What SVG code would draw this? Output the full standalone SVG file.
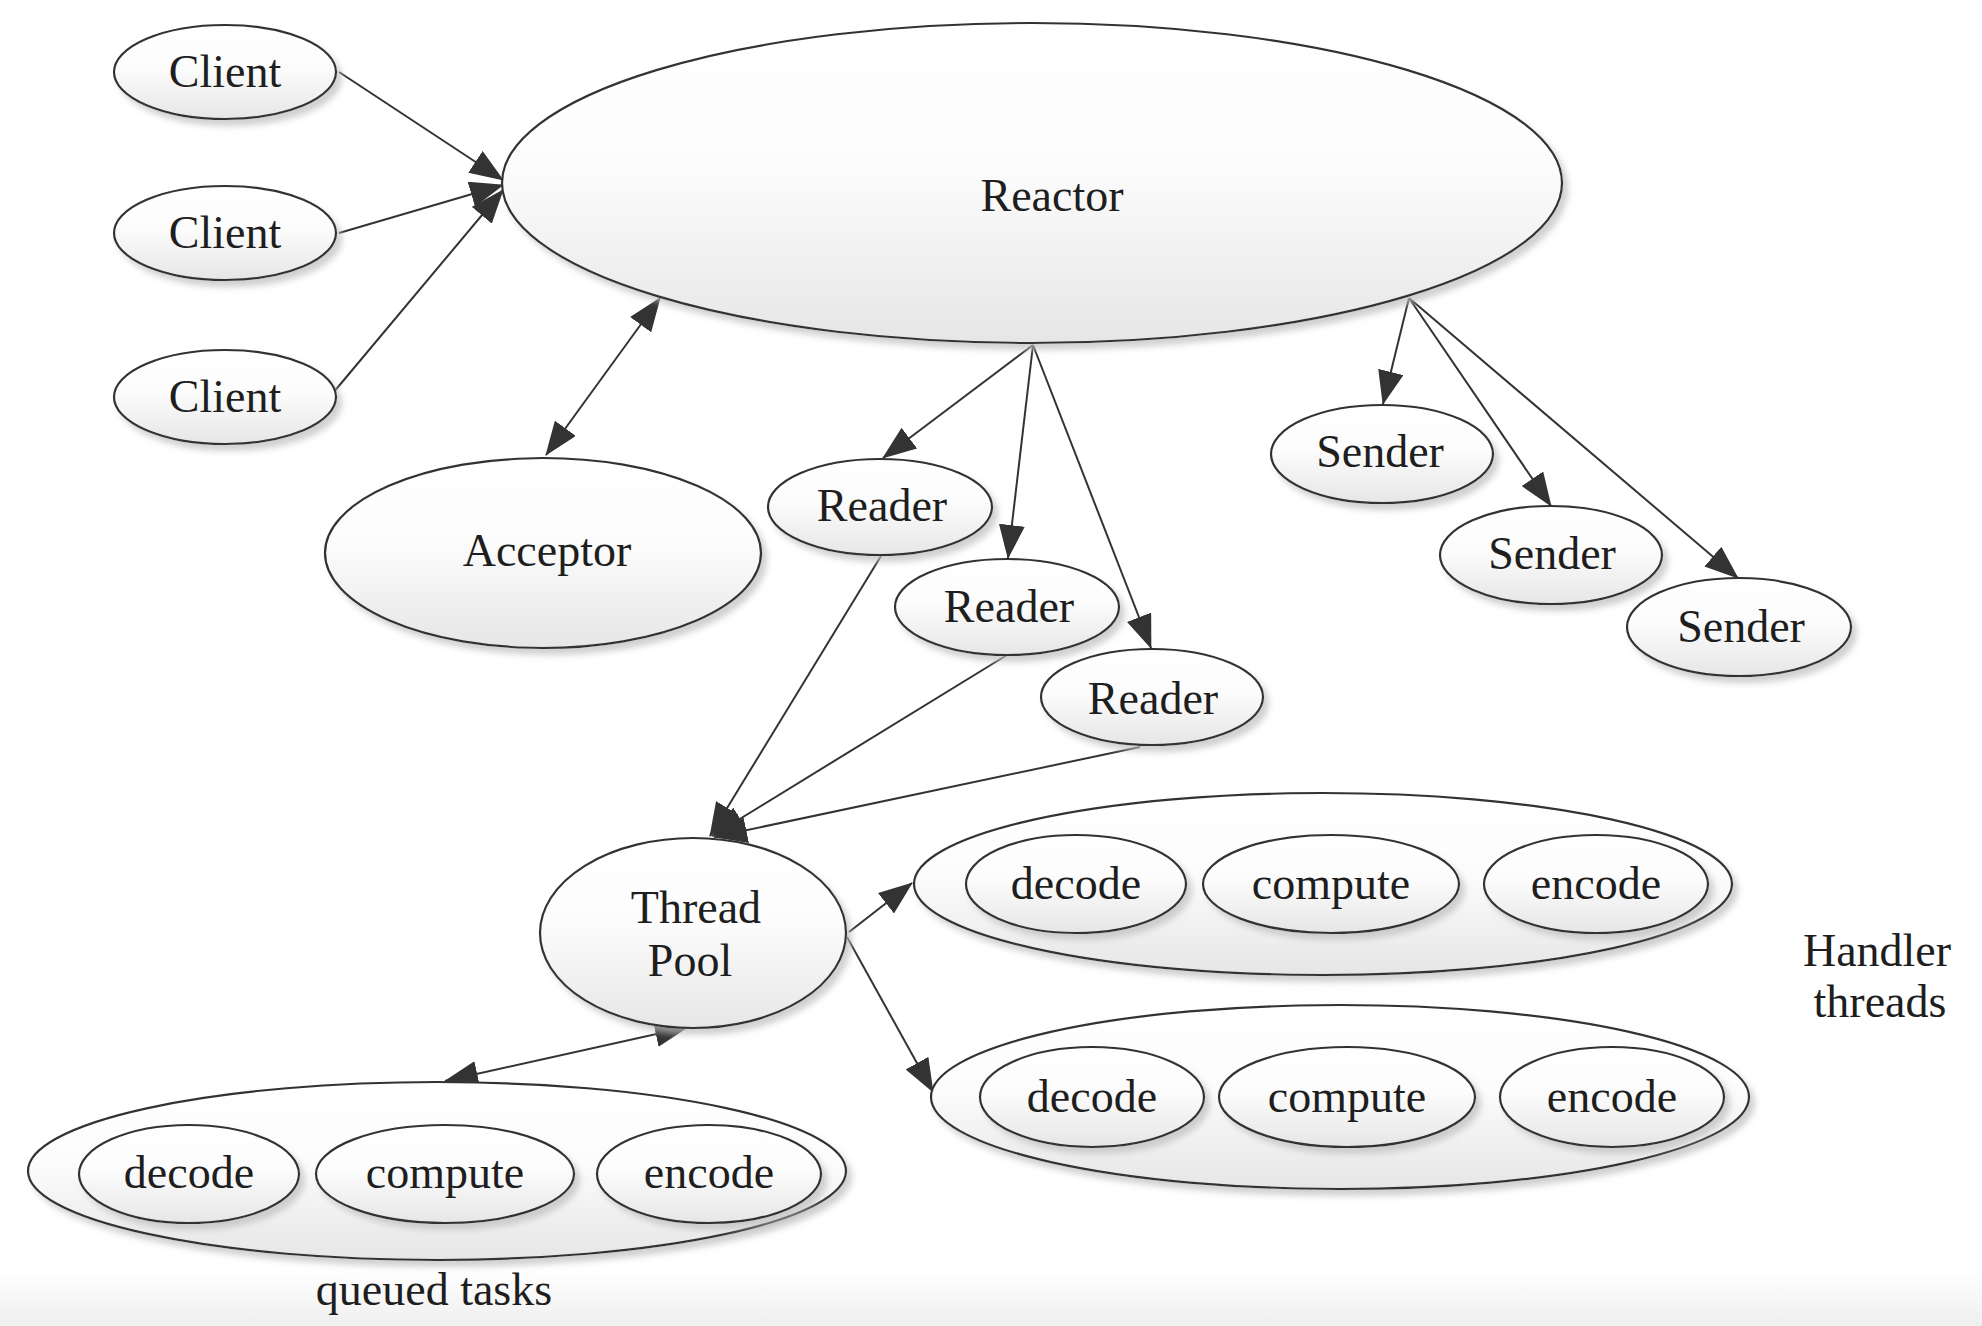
<svg xmlns="http://www.w3.org/2000/svg" width="1982" height="1326" viewBox="0 0 1982 1326">
<defs>
<linearGradient id="nf" x1="0" y1="0" x2="0" y2="1">
<stop offset="0" stop-color="#ffffff"/>
<stop offset="0.45" stop-color="#fcfcfc"/>
<stop offset="1" stop-color="#e6e6e6"/>
</linearGradient>
<linearGradient id="bot" x1="0" y1="0" x2="0" y2="1">
<stop offset="0" stop-color="#ffffff"/>
<stop offset="1" stop-color="#efefef"/>
</linearGradient>
<filter id="sh" x="-10%" y="-10%" width="125%" height="130%">
<feDropShadow dx="5" dy="6" stdDeviation="3" flood-color="#bdbdbd" flood-opacity="0.7"/>
</filter>
<marker id="ah" viewBox="0 0 34 26" markerWidth="34" markerHeight="26" refX="33" refY="13" orient="auto-start-reverse" markerUnits="userSpaceOnUse">
<path d="M0,0 L34,13 L0,26 z" fill="#333"/>
</marker>
</defs>
<style>
.n{fill:url(#nf);stroke:#333;stroke-width:2.2;filter:url(#sh)}
.t{font-family:"Liberation Serif","Times New Roman",serif;font-size:46px;fill:#1e1e1e;text-anchor:middle}
.e{fill:none;stroke:#333;stroke-width:2;marker-end:url(#ah)}
.d{marker-start:url(#ah)}
</style>
<rect x="0" y="0" width="1982" height="1326" fill="#ffffff"/>
<rect x="0" y="1270" width="1982" height="56" fill="url(#bot)"/>

<g id="connectors">
<path class="e" d="M339,72 L503,180"/>
<path class="e" d="M339,233 L503,185"/>
<path class="e" d="M333,393 L503,190"/>
<path class="e d" d="M546,455 L660,298"/>
<path class="e" d="M1033,345 L883,458"/>
<path class="e" d="M1033,345 L1008,558"/>
<path class="e" d="M1033,345 L1151,648"/>
<path class="e" d="M1409,298 L1383,404"/>
<path class="e" d="M1409,298 L1551,506"/>
<path class="e" d="M1409,298 L1738,578"/>
<path class="e" d="M881,556 L710,836"/>
<path class="e" d="M1007,655 L712,836"/>
<path class="e" d="M1140,747 L714,837"/>
<path class="e d" d="M688,1027 L445,1081"/>
<path class="e" d="M849,932 L912,883"/>
<path class="e" d="M847,937 L933,1092"/>
</g>

<g id="client1"><ellipse class="n" cx="225" cy="72" rx="111" ry="47"/><text class="t" x="225" y="87">Client</text></g>
<g id="client2"><ellipse class="n" cx="225" cy="233" rx="111" ry="47"/><text class="t" x="225" y="248">Client</text></g>
<g id="client3"><ellipse class="n" cx="225" cy="397" rx="111" ry="47"/><text class="t" x="225" y="412">Client</text></g>

<g id="reactor"><ellipse class="n" cx="1032" cy="183" rx="530" ry="160"/><text class="t" x="1052" y="211">Reactor</text></g>
<g id="acceptor"><ellipse class="n" cx="543" cy="553" rx="218" ry="95"/><text class="t" x="547" y="566">Acceptor</text></g>

<g id="reader1"><ellipse class="n" cx="880" cy="507" rx="112" ry="48"/><text class="t" x="882" y="521">Reader</text></g>
<g id="reader2"><ellipse class="n" cx="1007" cy="607" rx="112" ry="48"/><text class="t" x="1009" y="622">Reader</text></g>
<g id="reader3"><ellipse class="n" cx="1152" cy="697" rx="111" ry="48"/><text class="t" x="1153" y="714">Reader</text></g>

<g id="sender1"><ellipse class="n" cx="1382" cy="454" rx="111" ry="49"/><text class="t" x="1380" y="467">Sender</text></g>
<g id="sender2"><ellipse class="n" cx="1551" cy="555" rx="111" ry="49"/><text class="t" x="1552" y="569">Sender</text></g>
<g id="sender3"><ellipse class="n" cx="1739" cy="627" rx="112" ry="49"/><text class="t" x="1741" y="642">Sender</text></g>

<g id="threadpool"><ellipse class="n" cx="693" cy="933" rx="153" ry="95"/><text class="t" x="696" y="923">Thread</text><text class="t" x="690" y="976">Pool</text></g>

<g id="handler1">
<ellipse class="n" cx="1323" cy="884" rx="409" ry="91"/>
<ellipse class="n" cx="1076" cy="884" rx="110" ry="49"/><text class="t" x="1076" y="899">decode</text>
<ellipse class="n" cx="1331" cy="884" rx="128" ry="49"/><text class="t" x="1331" y="899">compute</text>
<ellipse class="n" cx="1596" cy="884" rx="112" ry="49"/><text class="t" x="1596" y="899">encode</text>
</g>
<g id="handler2">
<ellipse class="n" cx="1340" cy="1097" rx="409" ry="92"/>
<ellipse class="n" cx="1092" cy="1097" rx="112" ry="50"/><text class="t" x="1092" y="1112">decode</text>
<ellipse class="n" cx="1347" cy="1097" rx="128" ry="50"/><text class="t" x="1347" y="1112">compute</text>
<ellipse class="n" cx="1612" cy="1097" rx="112" ry="50"/><text class="t" x="1612" y="1112">encode</text>
</g>
<g id="queue">
<ellipse class="n" cx="437" cy="1171" rx="409" ry="89"/>
<ellipse class="n" cx="189" cy="1174" rx="110" ry="49"/><text class="t" x="189" y="1188">decode</text>
<ellipse class="n" cx="445" cy="1174" rx="129" ry="49"/><text class="t" x="445" y="1188">compute</text>
<ellipse class="n" cx="709" cy="1174" rx="112" ry="49"/><text class="t" x="709" y="1188">encode</text>
</g>
<g id="labels">
<text class="t" x="434" y="1305">queued tasks</text>
<text class="t" x="1877" y="966">Handler</text>
<text class="t" x="1880" y="1017">threads</text>
</g>
</svg>
